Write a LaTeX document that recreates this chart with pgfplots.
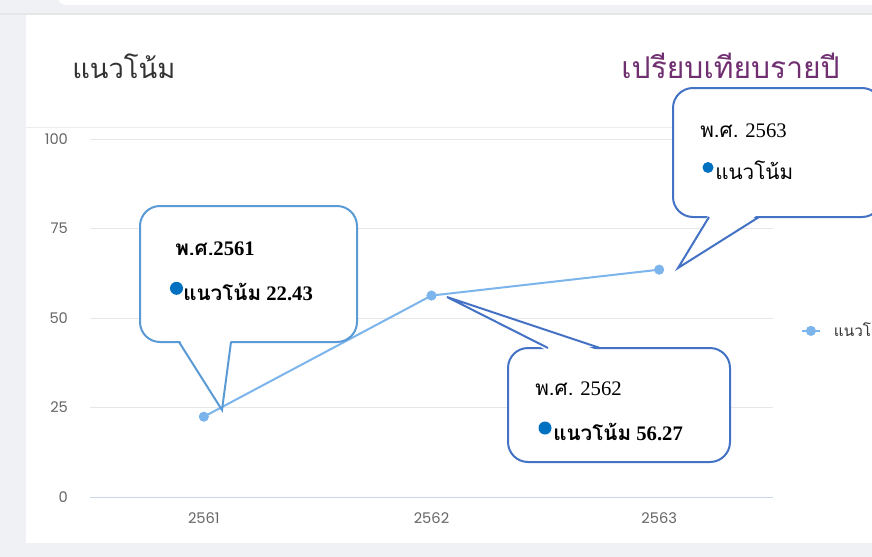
\documentclass[border=0pt]{standalone}
\usepackage{pgfplots}
\pgfplotsset{compat=1.18}
\usepackage{fontspec}
\setmainfont{Liberation Serif}
\newfontfamily\thai[Script=Thai]{Loma}
\newfontfamily\pop{Poppins}
\definecolor{bg}{HTML}{F0F1F5}
\definecolor{gridc}{HTML}{E6E6E6}
\definecolor{xaxisc}{HTML}{CCD6EB}
\definecolor{lab}{HTML}{666666}
\definecolor{ser}{HTML}{7CB5EC}
\definecolor{cbA}{HTML}{5B9BD5}
\definecolor{cbB}{HTML}{4472C4}
\definecolor{dotc}{HTML}{0070C0}
\definecolor{purp}{HTML}{702F70}
\definecolor{ttl}{HTML}{333333}
\begin{document}
\begin{tikzpicture}
\clip (0,0) rectangle (654pt,-417.75pt);
\begin{scope}[x=0.75pt,y=-0.75pt]
\fill[bg] (0,0) rectangle (872,557);
\fill[white, rounded corners=6pt] (58,-12) rectangle (890,5);
\fill[white] (26,15) rectangle (890,543);
\draw[gridc, line width=1.2pt] (0,14) -- (872,14);
\draw[gridc!70, line width=0.75pt] (26,127) -- (872,127);
\node[anchor=base west, inner sep=0pt, text=ttl, font=\thai\fontsize{20.5}{22}\selectfont] at (72,78) {แนวโน้ม};
\node[anchor=base east, inner sep=0pt, text=purp, font=\thai\fontsize{22.5}{24}\selectfont] at (840,78) {เปรียบเทียบรายปี};
\end{scope}
\begin{axis}[
 at={(67.5pt,-372.75pt)}, anchor=south west,
 scale only axis, width=512.25pt, height=268.5pt,
 xmin=-0.5, xmax=2.5, ymin=0, ymax=100,
 xtick=data, xticklabels={2561,2562,2563},
 ytick={0,25,50,75,100},
 ymajorgrids, grid style={draw=gridc, line width=0.75pt},
 axis x line*=bottom, axis y line*=left,
 y axis line style={draw=none},
 x axis line style={draw=xaxisc, line width=0.75pt},
 major tick length=0pt,
 tick label style={font=\pop\fontsize{11}{13}\selectfont, text=lab},
 /pgf/number format/assume math mode=true,
 yticklabel style={xshift=-13pt},
 xticklabel style={yshift=-8pt},
 clip=false,
 legend style={at={(1.040,0.464)}, anchor=west, draw=none, fill=none, inner sep=0pt,
   font=\thai\fontsize{11.5}{13}\selectfont, text=ttl},
 legend image code/.code={\draw[#1, line width=1.5pt, mark repeat=2, mark phase=2] plot coordinates {(0pt,0pt)(7pt,0pt)(14pt,0pt)};}
]
\addplot[color=ser, line width=1.5pt, mark=*, mark size=3pt, mark options={fill=ser, draw=ser}] coordinates {(0,22.43)(1,56.27)(2,63.5)};
\addlegendentry{\hspace{7.5pt}แนวโน้ม}
\end{axis}
\begin{scope}[x=0.75pt,y=-0.75pt]
% callout 1
\draw[cbA, line width=1.5pt, fill=white, rounded corners=15pt] (140,206) rectangle (357,342);
\fill[white] (179,339) -- (222,410) -- (231,339) -- cycle;
\draw[cbA, line width=1.5pt] (179,342) -- (222,410) -- (231,342);
\node[anchor=base west, inner sep=0pt, font=\fontsize{15.5}{17}\selectfont\bfseries] at (175,255) {{\thai พ.ศ.}2561};
\fill[dotc] (176.5,288.3) circle (6.5);
\node[anchor=base west, inner sep=0pt, font=\fontsize{15.5}{17}\selectfont\bfseries] at (183,300) {{\thai แนวโน้ม} 22.43};
% callout 2
\draw[cbB, line width=1.5pt, fill=white, rounded corners=15pt] (508,348) rectangle (730,462);
\fill[white] (548,351) -- (447,297) -- (600,351) -- cycle;
\draw[cbB, line width=1.5pt] (548,348) -- (447,297) -- (600,348);
\node[anchor=base west, inner sep=0pt, font=\fontsize{15.5}{17}\selectfont] at (535,395) {{\thai พ.ศ.} 2562};
\fill[dotc] (545,428) circle (6.5);
\node[anchor=base west, inner sep=0pt, font=\fontsize{15.5}{17}\selectfont\bfseries] at (553,440) {{\thai แนวโน้ม} 56.27};
% callout 3
\draw[cbB, line width=1.5pt, fill=white, rounded corners=15pt] (673,88) rectangle (882,217);
\fill[white] (709,214) -- (678,268) -- (759,214) -- cycle;
\draw[cbB, line width=1.5pt] (709,217) -- (678,268) -- (759,217);
\node[anchor=base west, inner sep=0pt, font=\fontsize{15.5}{17}\selectfont] at (700,137) {{\thai พ.ศ.} 2563};
\fill[dotc] (708,167.5) circle (5.5);
\node[anchor=base west, inner sep=0pt, font=\thai\fontsize{15.5}{17}\selectfont] at (715,179) {แนวโน้ม};
\end{scope}
\end{tikzpicture}
\end{document}
